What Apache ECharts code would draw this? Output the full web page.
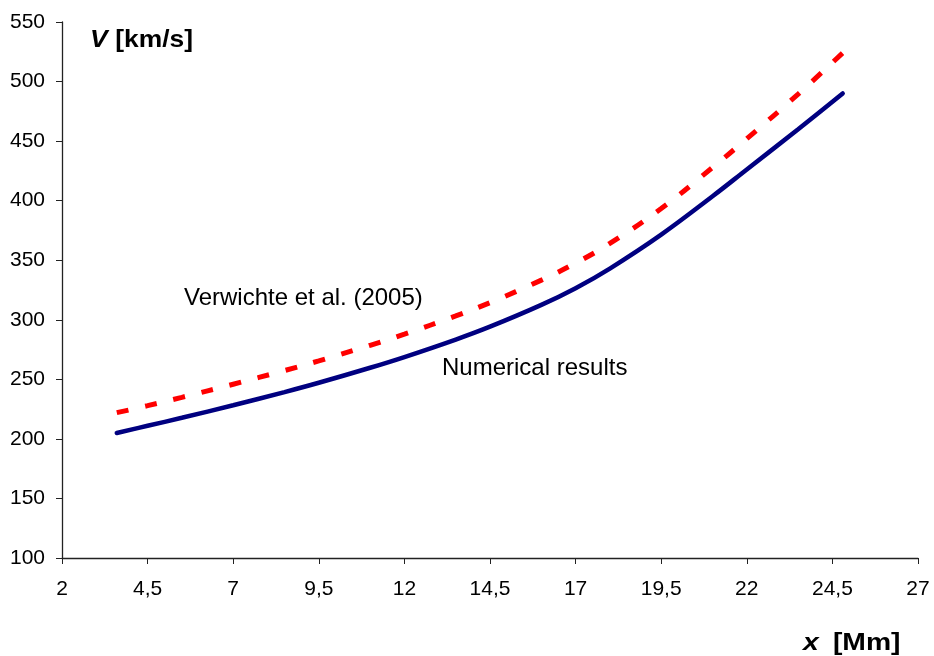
<!DOCTYPE html>
<html>
<head>
<meta charset="utf-8">
<script src="https://cdn.jsdelivr.net/npm/echarts@6/dist/echarts.min.js"></script>
<style>
  html, body { margin: 0; padding: 0; background: #fff; }
  #chart { width: 934px; height: 656px; }
</style>
</head>
<body>
<div id="chart"></div>
<script>
// Distance along the loop, x [Mm]
const xValues = [3.6, 4.5, 5.5, 7, 8.5, 9.5, 11, 12, 13.5, 14.5, 16, 17, 18, 19.5, 21, 22, 23.5, 24.8];
// Numerical results, V [km/s]
const numerical = [205, 211, 217.7, 228.2, 239.3, 247.1, 259.7, 268.7, 283.4, 294.2, 312.5, 326.5, 343, 371.5, 403.7, 426.2, 460, 490];
// Verwichte et al. (2005), V [km/s]
const verwichte = [222, 227.9, 234.9, 245.9, 257.4, 265.5, 278.6, 287.9, 303.2, 314.4, 333.3, 347.6, 364.1, 393.4, 427.9, 452, 489.5, 524];

// Axis tick labels use a decimal comma
const fmtComma = v => String(v).replace('.', ',');

const pairs = (xs, ys) => xs.map((x, i) => [x, ys[i]]);

const FONT = 'Liberation Sans, Arial, sans-serif';

// Bold axis captions with an italic variable symbol
const caption = (sym, unit, x, y, gap, sx) => ({
  type: 'text', x: x, y: y, scaleX: sx,
  style: {
    text: '{i|' + sym + '}{b|' + unit + '}',
    textVerticalAlign: 'middle',
    rich: {
      i: { fontFamily: FONT, fontSize: 24, fontWeight: 'bold', fontStyle: 'italic', fill: '#000', padding: [0, gap, 0, 0] },
      b: { fontFamily: FONT, fontSize: 24, fontWeight: 'bold', fill: '#000' }
    }
  }
});

const chart = echarts.init(document.getElementById('chart'), null, { renderer: 'canvas' });
chart.setOption({
  backgroundColor: '#ffffff',
  animation: false,
  grid: { left: 62, right: 16, top: 22, bottom: 98, containLabel: false },
  xAxis: {
    type: 'value',
    min: 2, max: 27, interval: 2.5,
    axisLine: { lineStyle: { color: '#222', width: 1.3 } },
    axisTick: { length: 6, lineStyle: { color: '#222' } },
    splitLine: { show: false },
    axisLabel: { color: '#000', fontFamily: FONT, fontSize: 21, margin: 21, formatter: fmtComma }
  },
  yAxis: {
    type: 'value',
    min: 100, max: 550, interval: 50,
    axisLine: { show: true, lineStyle: { color: '#222', width: 1.3 } },
    axisTick: { show: true, length: 6, lineStyle: { color: '#222' } },
    splitLine: { show: false },
    axisLabel: { color: '#000', fontFamily: FONT, fontSize: 21, margin: 17 }
  },
  series: [
    {
      name: 'Verwichte et al. (2005)',
      type: 'line',
      data: pairs(xValues, verwichte),
      smooth: 0.4,
      showSymbol: false,
      lineStyle: { color: '#ff0000', width: 5, type: [12, 17], cap: 'butt' },
      z: 2
    },
    {
      name: 'Numerical results',
      type: 'line',
      data: pairs(xValues, numerical),
      smooth: 0.4,
      showSymbol: false,
      lineStyle: { color: '#000080', width: 4.5, cap: 'round' },
      z: 3
    }
  ],
  graphic: [
    caption('V', '[km/s]', 90, 40, 7, 1.1),
    caption('x', '[Mm]', 803, 643, 12, 1.18),
    {
      type: 'text', x: 184, y: 298,
      style: { text: 'Verwichte et al. (2005)', fontFamily: FONT, fontSize: 24, fill: '#000', textVerticalAlign: 'middle' }
    },
    {
      type: 'text', x: 442, y: 368.5,
      style: { text: 'Numerical results', fontFamily: FONT, fontSize: 24, fill: '#000', textVerticalAlign: 'middle' }
    }
  ]
});
</script>
</body>
</html>
